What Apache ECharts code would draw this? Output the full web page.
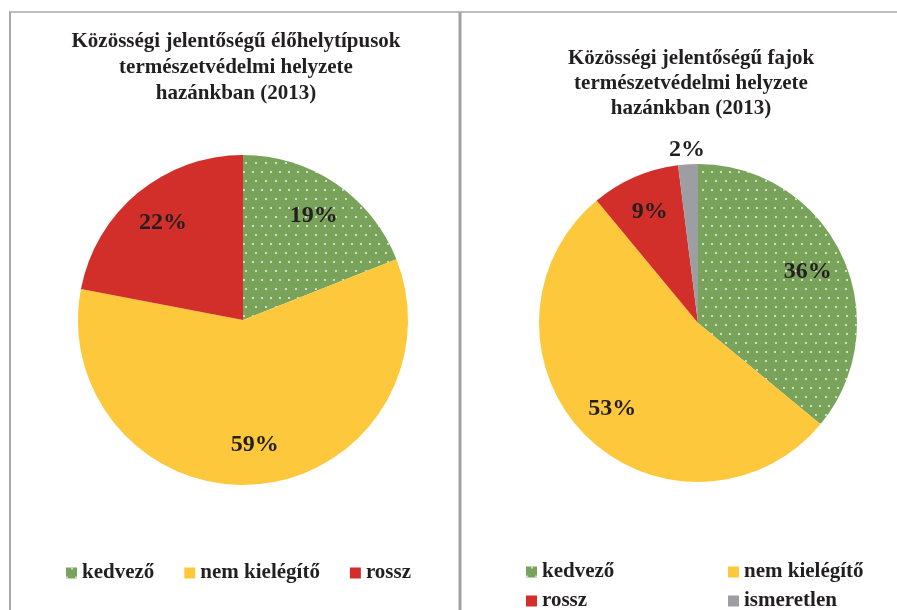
<!DOCTYPE html>
<html>
<head>
<meta charset="utf-8">
<script src="https://cdn.jsdelivr.net/npm/echarts@6/dist/echarts.min.js"></script>
<style>html,body{margin:0;padding:0;background:#fff}#c{width:897px;height:610px}</style>
</head>
<body>
<div id="c"></div>
<script>
// ---- data ----
const habitatCategories = ['kedvező', 'nem kielégítő', 'rossz'];
const habitatValues = [19, 59, 22];
const speciesCategories = ['kedvező', 'nem kielégítő', 'rossz', 'ismeretlen'];
const speciesValues = [36, 53, 9, 2];
const titleHabitat = 'Közösségi jelentőségű élőhelytípusok\ntermészetvédelmi helyzete\nhazánkban (2013)';
const titleSpecies = 'Közösségi jelentőségű fajok\ntermészetvédelmi helyzete\nhazánkban (2013)';

const colorMap = {
  'kedvező': '#79A25A',
  'nem kielégítő': '#FEC83C',
  'rossz': '#D32F2A',
  'ismeretlen': '#9C9EA1'
};
const dotDecal = {
  symbol: 'circle',
  symbolSize: 1,
  color: 'rgba(255,255,255,0.85)',
  dashArrayX: [[2, 7], [0, 4.5, 2, 2.5]],
  dashArrayY: [2, 6.7],
  rotation: 0
};
const TXT = '#231F20';
const FONT = '"Liberation Serif", "Times New Roman", serif';

const pies = [
  { cx: 243, cy: 320, r: 165 },
  { cx: 698, cy: 323, r: 159 }
];
const seriesValues = [habitatValues, speciesValues];

function buildData(cats, vals) {
  return cats.map((n, i) => ({
    name: n,
    value: vals[i],
    itemStyle: Object.assign({ color: colorMap[n] }, n === 'kedvező' ? { decal: dotDecal } : {})
  }));
}

function labelLayout(p) {
  const c = pies[p.seriesIndex];
  const v = seriesValues[p.seriesIndex][p.dataIndex];
  const lx = p.labelRect.x + p.labelRect.width / 2;
  const ly = p.labelRect.y + p.labelRect.height / 2;
  const k = v < 5 ? 2.1 : 1.47;
  return {
    x: c.cx + (lx - c.cx) * k,
    y: c.cy + (ly - c.cy) * k,
    align: 'center',
    verticalAlign: 'middle'
  };
}

function pieSeries(idx, cats, vals) {
  const c = pies[idx];
  return {
    type: 'pie',
    center: [c.cx, c.cy],
    radius: [0, c.r],
    startAngle: 90,
    clockwise: true,
    avoidLabelOverlap: false,
    silent: true,
    data: buildData(cats, vals),
    label: {
      show: true,
      position: 'inside',
      formatter: '{c}%',
      color: TXT,
      fontFamily: FONT,
      fontWeight: 'bold',
      fontSize: 24
    },
    labelLine: { show: false },
    labelLayout: labelLayout,
    itemStyle: { borderWidth: 0 },
    emphasis: { disabled: true }
  };
}

const chart = echarts.init(document.getElementById('c'), null, { renderer: 'canvas' });
chart.setOption({
  backgroundColor: '#fff',
  animation: false,
  aria: { enabled: false, decal: { show: true } },
  title: [
    {
      text: titleHabitat,
      left: 231, top: 24, textAlign: 'center',
      textStyle: { fontFamily: FONT, fontWeight: 'bold', fontSize: 21, lineHeight: 26, color: TXT }
    },
    {
      text: titleSpecies,
      left: 686, top: 41, textAlign: 'center',
      textStyle: { fontFamily: FONT, fontWeight: 'bold', fontSize: 21, lineHeight: 25, color: TXT }
    }
  ],
  legend: [
    {
      data: habitatCategories,
      left: 61, top: 557,
      orient: 'horizontal',
      itemWidth: 11, itemHeight: 11,
      itemGap: 30,
      icon: 'rect',
      selectedMode: false,
      textStyle: { fontFamily: FONT, fontWeight: 'bold', fontSize: 21, lineHeight: 22, color: TXT }
    },
    {
      data: speciesCategories,
      left: 521, top: 555, width: 400,
      orient: 'horizontal',
      itemWidth: 11, itemHeight: 11,
      itemGap: 5,
      icon: 'rect',
      selectedMode: false,
      textStyle: { fontFamily: FONT, fontWeight: 'bold', fontSize: 21, lineHeight: 24, width: 181, color: TXT }
    }
  ],
  graphic: [
    { type: 'line', shape: { x1: 9, y1: 12, x2: 897, y2: 12 }, style: { stroke: '#A8A8A8', lineWidth: 1.5 }, silent: true },
    { type: 'line', shape: { x1: 10, y1: 12, x2: 10, y2: 610 }, style: { stroke: '#A8A8A8', lineWidth: 2 }, silent: true },
    { type: 'line', shape: { x1: 460, y1: 12, x2: 460, y2: 610 }, style: { stroke: '#A0A0A4', lineWidth: 3 }, silent: true }
  ],
  series: [
    pieSeries(0, habitatCategories, habitatValues),
    pieSeries(1, speciesCategories, speciesValues)
  ]
});
</script>
</body>
</html>
